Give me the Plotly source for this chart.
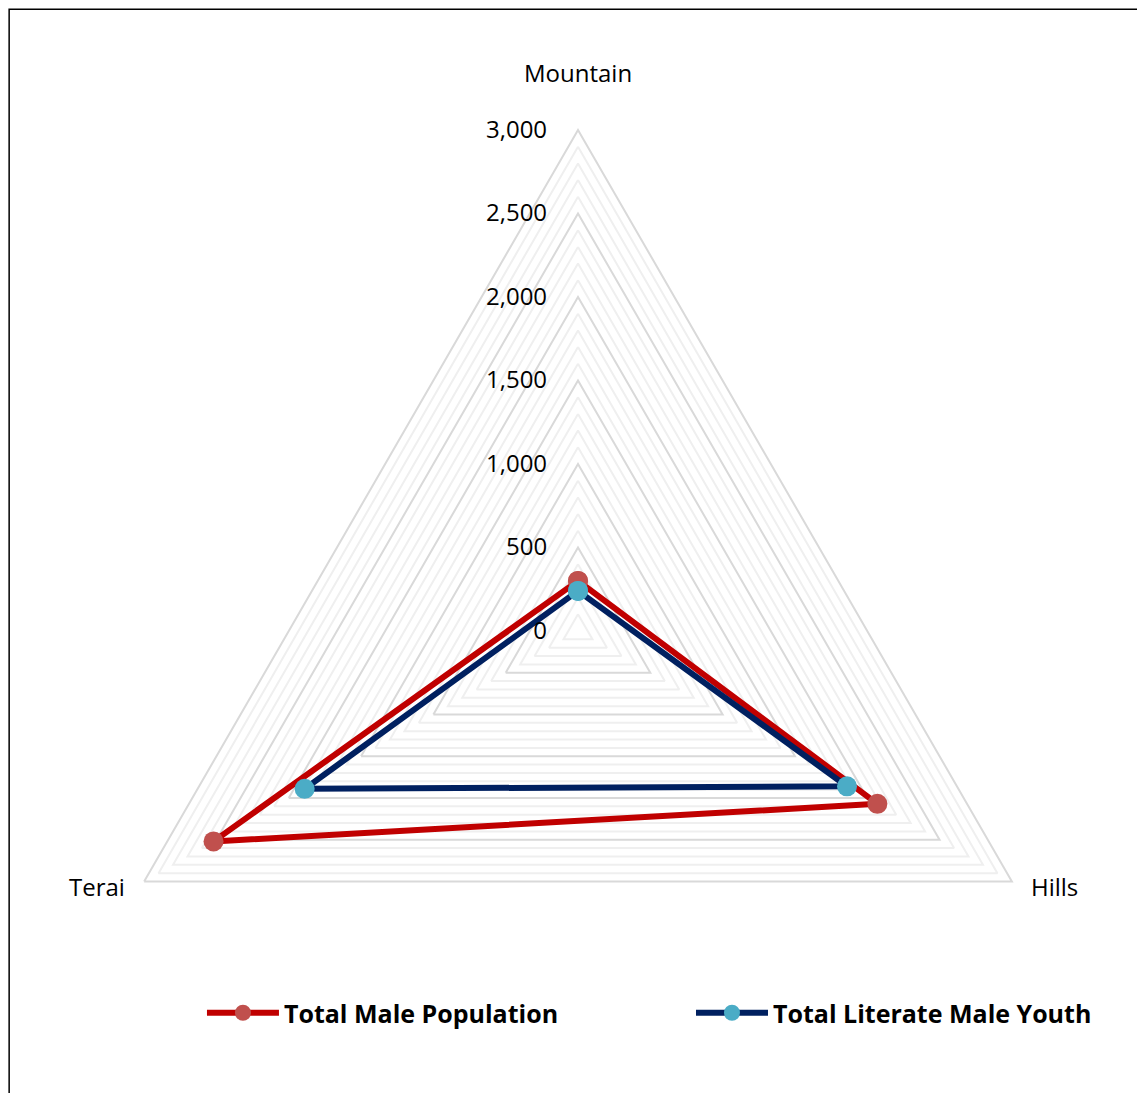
import plotly.graph_objects as go

categories = ["Mountain", "Hills", "Terai"]
male_population = [300, 2070, 2520]
literate_male_youth = [240, 1860, 1890]
radial_ticks = [0, 500, 1000, 1500, 2000, 2500, 3000]
radial_max = 3000
minor_step = 100

# page body adds an 8px offset; figure coordinates below are in figure px
W, H = 1145, 1130
cx, cy, R = 570, 623, 501

fig = go.Figure()

# minor gridlines
for v in range(minor_step, radial_max, minor_step):
    if v % 500 == 0:
        continue
    fig.add_trace(go.Scatterpolar(
        r=[v] * (len(categories) + 1), theta=categories + [categories[0]],
        mode="lines", line=dict(color="#efefef", width=2),
        hoverinfo="skip", showlegend=False))

def closed(a):
    return a + [a[0]]

fig.add_trace(go.Scatterpolar(
    r=closed(male_population), theta=closed(categories),
    name="Total Male Population", mode="lines+markers",
    line=dict(color="#c00000", width=6),
    marker=dict(color="#c0504d", size=20), legend="legend"))
fig.add_trace(go.Scatterpolar(
    r=closed(literate_male_youth), theta=closed(categories),
    name="Total Literate Male Youth", mode="lines+markers",
    line=dict(color="#002060", width=6),
    marker=dict(color="#4bacc6", size=20), legend="legend2"))

font_family = "Open Sans"
label_size = 24
leg_font = dict(size=25, family=font_family, weight="bold", color="#000000")
leg_y = (H - 1005) / H

# category labels placed just outside the triangle vertices
label_specs = [
    (categories[0], cx, cy - R - 57, "center"),
    (categories[1], cx + 451, cy + R / 2 + 5, "left"),
    (categories[2], cx - 451, cy + R / 2 + 5, "right"),
]
annotations = [
    dict(text=t, x=x / W, y=(H - y) / H, xref="paper", yref="paper",
         xanchor=xa, yanchor="middle", showarrow=False,
         font=dict(size=label_size, family=font_family, color="#000000"))
    for t, x, y, xa in label_specs
]

fig.update_layout(
    width=W, height=H,
    margin=dict(l=0, r=0, t=0, b=0),
    paper_bgcolor="white", plot_bgcolor="white",
    font=dict(family=font_family, size=label_size, color="#000000"),
    polar=dict(
        domain=dict(x=[(cx - R) / W, (cx + R) / W],
                    y=[(H - cy - R) / H, (H - cy + R) / H]),
        gridshape="linear",
        bgcolor="white",
        radialaxis=dict(range=[0, radial_max], tickvals=radial_ticks,
                        tickformat=",d", angle=90, tickangle=90,
                        side="counterclockwise", showline=False,
                        gridcolor="#d9d9d9", gridwidth=2,
                        ticks="outside", ticklen=22,
                        tickcolor="rgba(0,0,0,0)",
                        tickfont=dict(size=label_size)),
        angularaxis=dict(categoryorder="array", categoryarray=categories,
                         rotation=90, direction="clockwise",
                         showgrid=False, showline=True, linecolor="#d9d9d9",
                         linewidth=2, ticks="", showticklabels=False),
    ),
    annotations=annotations,
    legend=dict(orientation="h", x=0.1694, xanchor="left", y=leg_y,
                yanchor="middle", font=leg_font, itemwidth=72,
                bgcolor="rgba(0,0,0,0)"),
    legend2=dict(orientation="h", x=0.5965, xanchor="left", y=leg_y,
                 yanchor="middle", font=leg_font, itemwidth=72,
                 bgcolor="rgba(0,0,0,0)"),
    shapes=[dict(type="rect", xref="paper", yref="paper",
                 x0=0.001, x1=1.05, y0=-0.05, y1=0.999,
                 line=dict(color="black", width=1.5))],
)

fig.write_html("out.html")
